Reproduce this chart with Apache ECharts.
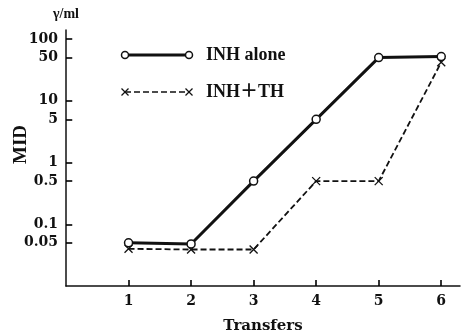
<!DOCTYPE html>
<html><head><meta charset="utf-8">
<script src="https://cdn.jsdelivr.net/npm/echarts@6/dist/echarts.min.js"></script>
<style>html,body{margin:0;padding:0;background:#fff}#c{width:466px;height:334px}</style>
</head><body><div id="c"></div>
<script>
const transfers = [1, 2, 3, 4, 5, 6];
const inhAlone = [0.05, 0.048, 0.5, 5, 50, 52];
const inhTH = [0.04, 0.039, 0.039, 0.5, 0.5, 42];
const yTicks = [0.05, 0.1, 0.5, 1, 5, 10, 50, 100];
const xTicks = [1, 2, 3, 4, 5, 6];
const seriesNames = ['INH alone', 'INH＋TH'];

const serif = '"Liberation Serif","DejaVu Serif","Noto Sans CJK JP",serif';
const wide = '"DejaVu Serif","Liberation Serif",serif';
const crossPath = 'path://M0,0L10,10M10,0L0,10';
const Y_MIN = 0.01, X_MIN = 0;
const X_TICK_LEN = 0.1;      // tick length in x data units (inside)
const Y_TICK_FACTOR = 1.25;  // tick length as a log-axis factor (inside)

function cross(cx, cy) {
  const s = 3.5;
  return [
    {type: 'line', shape: {x1: cx - s, y1: cy - s, x2: cx + s, y2: cy + s}, style: {stroke: '#111', lineWidth: 1.3}},
    {type: 'line', shape: {x1: cx + s, y1: cy - s, x2: cx - s, y2: cy + s}, style: {stroke: '#111', lineWidth: 1.3}}
  ];
}

const tickLines = [
  ...yTicks.map(v => [{coord: [X_MIN, v]}, {coord: [X_MIN + X_TICK_LEN, v]}]),
  ...xTicks.map(v => [{coord: [v, Y_MIN]}, {coord: [v, Y_MIN * Y_TICK_FACTOR]}])
];

const chart = echarts.init(document.getElementById('c'));
chart.setOption({
  animation: false,
  backgroundColor: '#fff',
  grid: {left: 66, right: 6, top: 30, bottom: 48, outerBoundsMode: 'none', containLabel: false},
  xAxis: {
    type: 'value', min: X_MIN, max: 6.3, interval: 1,
    name: 'Transfers', nameLocation: 'middle', nameGap: 33,
    nameTextStyle: {fontFamily: wide, fontWeight: 'bold', fontSize: 15, color: '#111'},
    axisLine: {lineStyle: {color: '#111', width: 1.5}},
    axisTick: {show: false},
    axisLabel: {customValues: xTicks, margin: 8, fontFamily: wide, fontWeight: 'bold', fontSize: 14, color: '#111'},
    splitLine: {show: false}
  },
  yAxis: {
    type: 'log', logBase: 10, min: Y_MIN, max: 140,
    name: 'γ/ml', nameLocation: 'end', nameGap: 9,
    nameTextStyle: {fontFamily: serif, fontWeight: 'bold', fontSize: 14, color: '#111', align: 'center'},
    axisLine: {show: true, lineStyle: {color: '#111', width: 1.5}},
    axisTick: {show: false},
    axisLabel: {customValues: yTicks, margin: 8, fontFamily: wide, fontWeight: 'bold', fontSize: 14, color: '#111',
      formatter: v => String(v)},
    splitLine: {show: false}
  },
  graphic: [
    {type: 'text', x: 12, y: 164, rotation: Math.PI/2, style: {text: 'MID', font: 'bold 19px ' + serif, fill: '#111', verticalAlign: 'top'}},
    {type: 'line', shape: {x1: 125, y1: 55, x2: 189, y2: 55}, style: {stroke: '#111', lineWidth: 3}},
    {type: 'circle', shape: {cx: 125, cy: 55, r: 3.5}, style: {fill: '#fff', stroke: '#111', lineWidth: 1.5}},
    {type: 'circle', shape: {cx: 189, cy: 55, r: 3.5}, style: {fill: '#fff', stroke: '#111', lineWidth: 1.5}},
    {type: 'text', x: 206, y: 55, style: {text: seriesNames[0], font: 'bold 18px ' + serif, fill: '#111', verticalAlign: 'middle'}},
    {type: 'line', shape: {x1: 125, y1: 92, x2: 189, y2: 92}, style: {stroke: '#111', lineWidth: 1.7, lineDash: [6, 3]}},
    ...cross(125, 92),
    ...cross(189, 92),
    {type: 'text', x: 206, y: 92, style: {text: seriesNames[1], font: 'bold 18px ' + serif, fill: '#111', verticalAlign: 'middle'}}
  ],
  series: [
    {
      name: seriesNames[1], type: 'line', z: 2,
      data: transfers.map((t, i) => [t, inhTH[i]]),
      lineStyle: {color: '#111', width: 1.8, type: [6, 3]},
      symbol: crossPath, symbolSize: 8,
      itemStyle: {color: 'rgba(0,0,0,0)', borderColor: '#111', borderWidth: 1.3}
    },
    {
      name: seriesNames[0], type: 'line', z: 3,
      data: transfers.map((t, i) => [t, inhAlone[i]]),
      lineStyle: {color: '#111', width: 3},
      symbol: 'circle', symbolSize: 8,
      itemStyle: {color: '#fff', borderColor: '#111', borderWidth: 1.5},
      markLine: {
        silent: true, animation: false, symbol: ['none', 'none'],
        label: {show: false},
        lineStyle: {type: 'solid', color: '#000', width: 1.6},
        emphasis: {disabled: true},
        data: tickLines
      }
    }
  ]
});
</script></body></html>
